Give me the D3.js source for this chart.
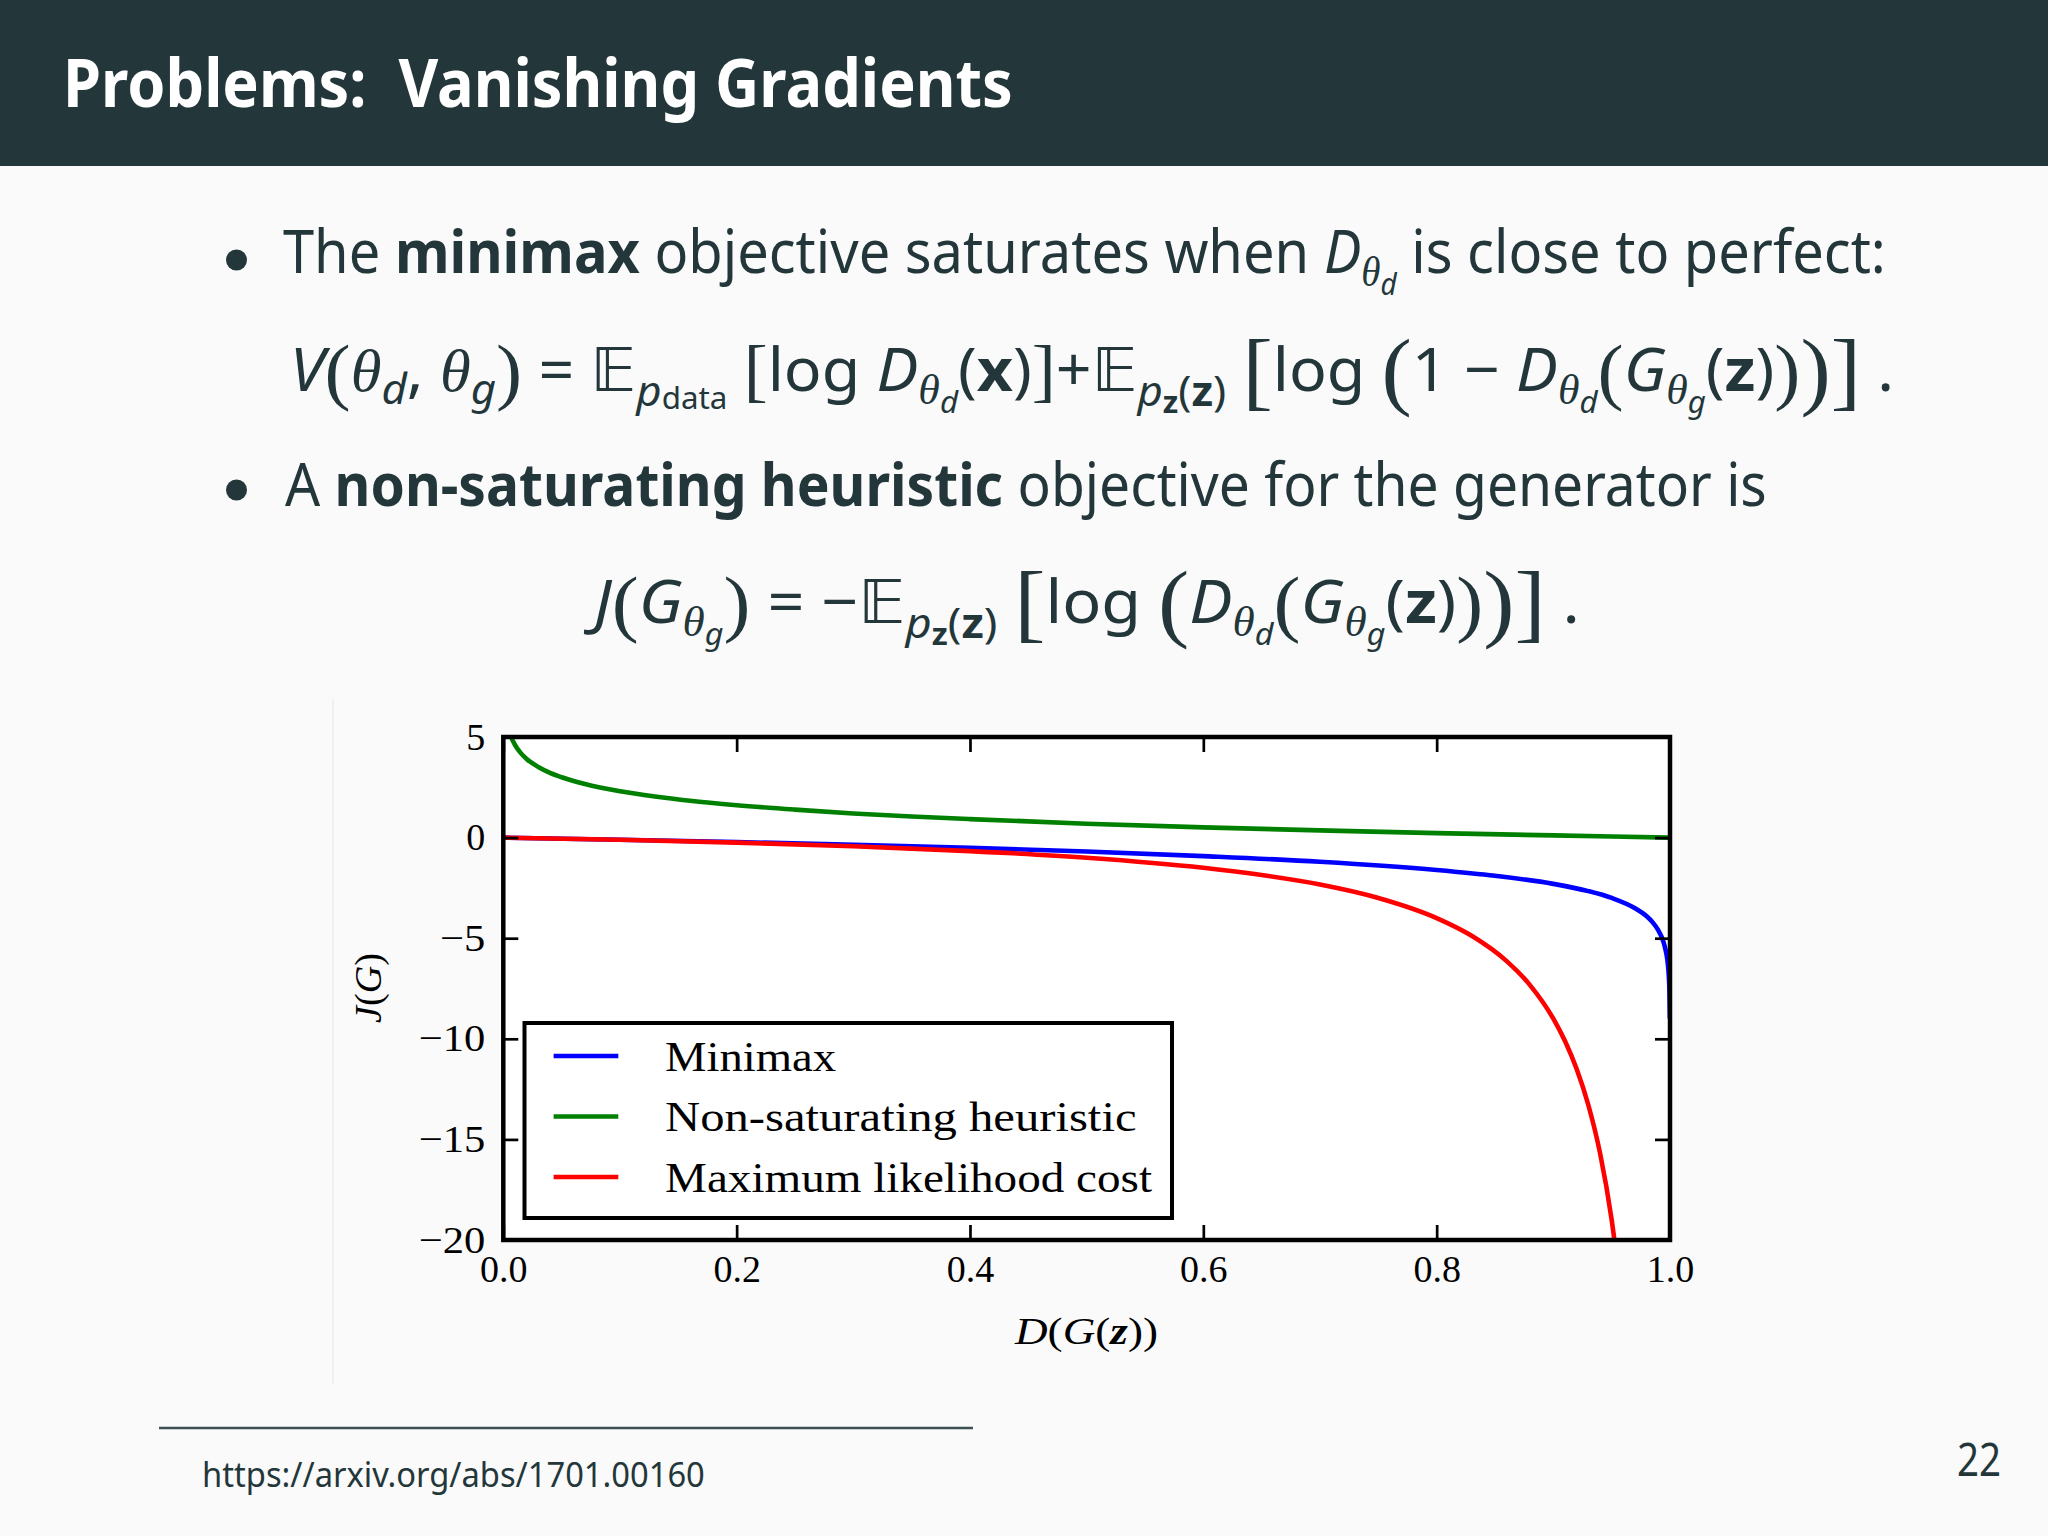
<!DOCTYPE html>
<html><head><meta charset="utf-8">
<script src="https://cdn.jsdelivr.net/npm/d3@7"></script>
<style>
html,body{margin:0;padding:0;background:#fafafa;}
svg{display:block;}
text{white-space:pre;}
</style></head><body>
<svg id="c" width="2048" height="1536"></svg>
<script>
// ---------------- data ----------------
const xTicks = [0, 0.2, 0.4, 0.6, 0.8, 1.0];
const yTicks = [-20, -15, -10, -5, 0, 5];
const seriesNames = ["Minimax", "Non-saturating heuristic", "Maximum likelihood cost"];

const minimaxX = [0, 0.1, 0.2, 0.3, 0.4, 0.5, 0.6, 0.7, 0.8, 0.85, 0.9, 0.93, 0.95, 0.97, 0.98, 0.985, 0.99, 0.993, 0.995, 0.997, 0.998, 0.999, 0.9995, 0.9999];
const minimaxJ = [0, -0.11, -0.22, -0.36, -0.51, -0.69, -0.92, -1.2, -1.61, -1.9, -2.3, -2.66, -3.0, -3.51, -3.91, -4.2, -4.61, -4.96, -5.3, -5.81, -6.21, -6.91, -7.6, -9.0];

const nonSatX = [0.005, 0.0067, 0.01, 0.015, 0.02, 0.03, 0.04, 0.05, 0.07, 0.1, 0.13, 0.16, 0.2, 0.25, 0.3, 0.35, 0.4, 0.5, 0.6, 0.7, 0.8, 0.9, 1.0];
const nonSatJ = [5.3, 5.0, 4.61, 4.2, 3.91, 3.51, 3.22, 3.0, 2.66, 2.3, 2.04, 1.83, 1.61, 1.39, 1.2, 1.05, 0.92, 0.69, 0.51, 0.36, 0.22, 0.11, 0.0];

const mlX = [0, 0.1, 0.2, 0.3, 0.4, 0.5, 0.6, 0.65, 0.7, 0.75, 0.8, 0.83, 0.86, 0.88, 0.9, 0.91, 0.92, 0.93, 0.94, 0.95, 0.955];
const mlJ = [0, -0.11, -0.25, -0.43, -0.67, -1.0, -1.5, -1.86, -2.33, -3.0, -4.0, -4.88, -6.14, -7.33, -9.0, -10.11, -11.5, -13.29, -15.67, -19.0, -21.2];

const seriesColors = ["#0000ff", "#008000", "#ff0000"];

// ---------------- page ----------------
const TEAL = "#23373b";
const SANS = "'Noto Sans','DejaVu Sans',sans-serif";
const SERIF = "'Liberation Serif','Times New Roman',serif";
const BBF = "'DejaVu Sans','DejaVu Serif',sans-serif";
const svg = d3.select("#c");

svg.append("rect").attr("x", 0).attr("y", 0).attr("width", 2048).attr("height", 1536).attr("fill", "#fafafa");
svg.append("rect").attr("x", 0).attr("y", 0).attr("width", 2048).attr("height", 166).attr("fill", TEAL);

function richLine(parent, segs, base, color, fam) {
  const g = parent.append("g");
  let x = 0;
  for (const s of segs) {
    const k = s.k || 1;
    const t = g.append("text")
      .attr("x", x).attr("y", (s.dy || 0) * base)
      .attr("font-size", base * k)
      .attr("font-family", s.f || fam || SANS)
      .attr("font-weight", s.w || "normal")
      .attr("font-style", s.it ? "italic" : "normal")
      .attr("fill", color)
      .text(s.t);
    x += t.node().getComputedTextLength();
  }
  return { g, w: x };
}
function place(parent, segs, base, color, x0, x1, baseline, fam) {
  const r = richLine(parent, segs, base, color, fam);
  r.g.attr("transform", `translate(${x0},${baseline}) scale(${(x1 - x0) / r.w},1)`);
  return r;
}
const N = t => ({ t });
const B = t => ({ t, w: "bold" });
const I = t => ({ t, it: true });
const TH = sub => [{ t: "θ", f: SERIF, it: true, k: 0.7, dy: 0.22 }, { t: sub, it: true, k: 0.5, dy: 0.36 }];
const BIG = (t, k) => ({ t, k, dy: (k - 1) * 0.3, f: SERIF });
const BB = { t: "𝔼", f: BBF };
const PZ = [{ t: "p", it: true, k: 0.7, dy: 0.25 }, { t: "z", w: "bold", k: 0.5, dy: 0.36 },
            { t: "(", k: 0.7, dy: 0.25 }, { t: "z", w: "bold", k: 0.7, dy: 0.25 }, { t: ")", k: 0.7, dy: 0.25 }];

// title
place(svg, [B("Problems:  Vanishing Gradients")], 67, "#ffffff", 63, 1013, 107);

// bullets
svg.append("circle").attr("cx", 236.5).attr("cy", 260).attr("r", 10.5).attr("fill", TEAL);
svg.append("circle").attr("cx", 236.5).attr("cy", 490).attr("r", 10.5).attr("fill", TEAL);

place(svg, [N("The "), B("minimax"), N(" objective saturates when "), I("D"), ...TH("d"), N(" is close to perfect:")],
  60, TEAL, 283, 1886, 273);

place(svg, [I("V"), BIG("(", 1.25), { t: "θ", f: SERIF, it: true }, { t: "d", it: true, k: 0.7, dy: 0.22 }, N(", "),
  { t: "θ", f: SERIF, it: true }, { t: "g", it: true, k: 0.7, dy: 0.22 }, BIG(")", 1.25), N(" = "),
  BB, { t: "p", it: true, k: 0.7, dy: 0.25 }, { t: "data", k: 0.5, dy: 0.3 }, N(" "), BIG("[", 1.15), N("log "), I("D"), ...TH("d"),
  N("("), B("x"), N(")"), BIG("]", 1.15), N("+"), BB, ...PZ, N(" "), BIG("[", 1.45), N("log "), BIG("(", 1.45), N("1 − "),
  I("D"), ...TH("d"), BIG("(", 1.25), I("G"), ...TH("g"), N("("), B("z"), N(")"), BIG(")", 1.25),
  BIG(")", 1.45), BIG("]", 1.45), N(" .")], 60, TEAL, 290, 1894, 391);

place(svg, [N("A "), B("non-saturating heuristic"), N(" objective for the generator is")], 60, TEAL, 285, 1767, 506);

place(svg, [I("J"), BIG("(", 1.25), I("G"), ...TH("g"), BIG(")", 1.25), N(" = −"), BB, ...PZ, N(" "),
  BIG("[", 1.45), N("log "), BIG("(", 1.45), I("D"), ...TH("d"), BIG("(", 1.25), I("G"), ...TH("g"),
  N("("), B("z"), N(")"), BIG(")", 1.25), BIG(")", 1.45), BIG("]", 1.45), N(" .")], 60, TEAL, 594, 1580, 623);

// footer
svg.append("line").attr("x1", 159).attr("x2", 973).attr("y1", 1428).attr("y2", 1428)
  .attr("stroke", "#3c4f52").attr("stroke-width", 2.7);
place(svg, [N("https://arxiv.org/abs/1701.00160")], 34, TEAL, 202, 705, 1487);
place(svg, [N("22")], 46, TEAL, 1957, 2001, 1476);

// ---------------- chart ----------------
svg.append("line").attr("x1", 333).attr("x2", 333).attr("y1", 699).attr("y2", 1384).attr("stroke", "#ececec").attr("stroke-width", 1.5);

const X0 = 503.3, X1 = 1670, Y0 = 737, Y1 = 1240;
const x = d3.scaleLinear().domain([0, 1]).range([X0, X1]);
const y = d3.scaleLinear().domain([-20, 5]).range([Y1, Y0]);

svg.append("rect").attr("x", X0).attr("y", Y0).attr("width", X1 - X0).attr("height", Y1 - Y0).attr("fill", "#ffffff");

svg.append("defs").append("clipPath").attr("id", "clip")
  .append("rect").attr("x", X0).attr("y", Y0).attr("width", X1 - X0).attr("height", Y1 - Y0);

const series = [
  { name: seriesNames[0], xs: minimaxX, ys: minimaxJ, color: seriesColors[0] },
  { name: seriesNames[1], xs: nonSatX, ys: nonSatJ, color: seriesColors[1] },
  { name: seriesNames[2], xs: mlX, ys: mlJ, color: seriesColors[2] }
];
const line = d3.line().x(d => x(d[0])).y(d => y(d[1])).curve(d3.curveMonotoneX);
const plot = svg.append("g").attr("clip-path", "url(#clip)");
series.forEach(s => {
  plot.append("path").datum(s.xs.map((v, i) => [v, s.ys[i]]))
    .attr("d", line).attr("fill", "none").attr("stroke", s.color)
    .attr("stroke-width", 4.6).attr("stroke-linejoin", "round");
});

const TICKLEN = 15;
function styleAxis(g) {
  g.select(".domain").remove();
  g.selectAll(".tick line").attr("stroke", "#000").attr("stroke-width", 2.7);
  g.selectAll(".tick text").attr("font-family", SERIF).attr("font-size", 38).attr("fill", "#000");
}
const fmtX = d3.format(".1f");
const fmtY = d3.format("d");
svg.append("g").attr("transform", `translate(0,${Y1})`)
  .call(d3.axisBottom(x).tickValues(xTicks).tickFormat(fmtX).tickSizeInner(-TICKLEN).tickSizeOuter(0).tickPadding(15))
  .call(styleAxis);
svg.append("g").attr("transform", `translate(0,${Y0})`)
  .call(d3.axisTop(x).tickValues(xTicks).tickFormat("").tickSizeInner(-TICKLEN).tickSizeOuter(0))
  .call(styleAxis);
const yAx = svg.append("g").attr("transform", `translate(${X0},0)`)
  .call(d3.axisLeft(y).tickValues(yTicks).tickFormat(fmtY).tickSizeInner(-TICKLEN).tickSizeOuter(0).tickPadding(18))
  .call(styleAxis);
// CM minus sign is wider than the Times one: stretch negative labels slightly
yAx.selectAll(".tick text").each(function (d) {
  if (d < 0) {
    const w = this.getComputedTextLength();
    d3.select(this).attr("textLength", w * 1.12).attr("lengthAdjust", "spacingAndGlyphs");
  }
});
svg.append("g").attr("transform", `translate(${X1},0)`)
  .call(d3.axisRight(y).tickValues(yTicks).tickFormat("").tickSizeInner(-TICKLEN).tickSizeOuter(0))
  .call(styleAxis);

svg.append("rect").attr("x", X0).attr("y", Y0).attr("width", X1 - X0).attr("height", Y1 - Y0)
  .attr("fill", "none").attr("stroke", "#000").attr("stroke-width", 4.5);

// axis labels
place(svg, [I("D"), N("("), I("G"), N("("), { t: "z", it: true, w: "bold" }, N("))")], 38, "#000", 1015, 1158, 1344, SERIF);
{
  const r = richLine(svg, [I("J"), N("("), I("G"), N(")")], 38, "#000", SERIF);
  const L = 70;
  r.g.attr("transform", `translate(381,${988 + L / 2}) rotate(-90) scale(${L / r.w},1)`);
}

// legend
const lg = svg.append("g");
lg.append("rect").attr("x", 524.5).attr("y", 1023).attr("width", 647.5).attr("height", 195)
  .attr("fill", "#ffffff").attr("stroke", "#000").attr("stroke-width", 4);
const legendRowsY = [1056, 1116.5, 1177];
const legendTextW = [171, 471.5, 487];
series.forEach((s, i) => {
  lg.append("line").attr("x1", 553.6).attr("x2", 618.3).attr("y1", legendRowsY[i]).attr("y2", legendRowsY[i])
    .attr("stroke", s.color).attr("stroke-width", 4.6);
  lg.append("text").attr("x", 665).attr("y", legendRowsY[i] + 14.5)
    .attr("font-family", SERIF).attr("font-size", 43).attr("fill", "#000")
    .attr("textLength", legendTextW[i]).attr("lengthAdjust", "spacingAndGlyphs")
    .text(s.name);
});
</script>
</body></html>
